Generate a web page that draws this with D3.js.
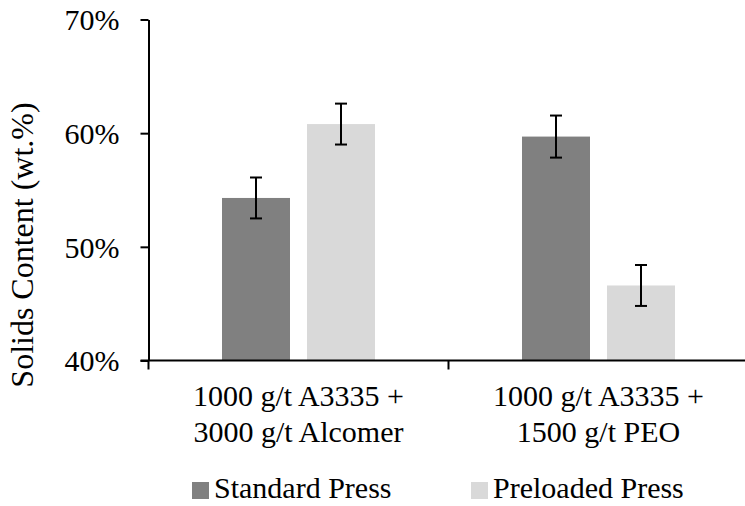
<!DOCTYPE html>
<html>
<head>
<meta charset="utf-8">
<script src="https://cdn.jsdelivr.net/npm/d3@7"></script>
<style>
  html, body { margin: 0; padding: 0; background: #fff; }
  svg { display: block; }
  text { font-family: "Liberation Serif", "Times New Roman", Times, serif; fill: #000; }
</style>
</head>
<body>
<svg id="chart" width="745" height="506"></svg>
<script>
const categories = [["1000 g/t A3335 +", "3000 g/t Alcomer"], ["1000 g/t A3335 +", "1500 g/t PEO"]];
const seriesNames = ["Standard Press", "Preloaded Press"];
const standardValues = [54.3, 59.7];
const preloadedValues = [60.8, 46.6];
const standardErrors = [1.8, 1.85];
const preloadedErrors = [1.8, 1.8];
const yTicks = [40, 50, 60, 70];
const colors = ["#808080", "#d9d9d9"];

const svg = d3.select("#chart");
const plotLeft = 148.5, plotRight = 748.5, plotTop = 19.5, plotBottom = 360.5;
const fontSize = 30;

const catIdx = categories.map((d, i) => i);
const x0 = d3.scaleBand().domain(catIdx).range([plotLeft, plotRight]).padding(0);
const x1 = d3.scaleBand().domain([0, 1]).range([73.5, 226.5]).paddingInner(0.2).paddingOuter(0);
const y = d3.scaleLinear().domain([40, 70]).range([plotBottom, plotTop]);

const series = [
  { values: standardValues, errors: standardErrors },
  { values: preloadedValues, errors: preloadedErrors }
];

// bars
series.forEach((s, si) => {
  svg.append("g").selectAll("rect").data(s.values).join("rect")
    .attr("x", (d, i) => x0(i) + x1(si))
    .attr("y", d => y(d))
    .attr("width", x1.bandwidth())
    .attr("height", d => y(40) - y(d))
    .attr("fill", colors[si]);
});

// error bars
series.forEach((s, si) => {
  const g = svg.append("g").attr("stroke", "#000").attr("stroke-width", 2);
  s.values.forEach((v, i) => {
    const cx = x0(i) + x1(si) + x1.bandwidth() / 2;
    const e = s.errors[i];
    g.append("line").attr("x1", cx).attr("x2", cx).attr("y1", y(v + e)).attr("y2", y(v - e));
    g.append("line").attr("x1", cx - 6).attr("x2", cx + 6).attr("y1", y(v + e)).attr("y2", y(v + e));
    g.append("line").attr("x1", cx - 6).attr("x2", cx + 6).attr("y1", y(v - e)).attr("y2", y(v - e));
  });
});

// y axis
const yAxis = d3.axisLeft(y).tickValues(yTicks).tickSize(8).tickSizeOuter(0).tickPadding(21)
  .tickFormat(d => d + "%");
const gy = svg.append("g").attr("transform", `translate(${plotLeft},0)`).call(yAxis);
gy.attr("font-family", null).attr("font-size", null);
gy.select(".domain").attr("stroke", "#000").attr("stroke-width", 2);
gy.selectAll(".tick line").attr("stroke", "#000").attr("stroke-width", 2);
gy.selectAll(".tick text").style("font-size", fontSize + "px").attr("fill", "#000").attr("dy", "0.34em");

// x axis
const gx = svg.append("g").attr("transform", `translate(0,${plotBottom})`);
gx.append("line").attr("x1", plotLeft - 8).attr("x2", plotRight).attr("y1", 0).attr("y2", 0)
  .attr("stroke", "#000").attr("stroke-width", 2);
const boundaries = [plotLeft].concat(catIdx.map(i => x0(i) + x0.bandwidth()));
gx.selectAll("line.tk").data(boundaries).join("line").attr("class", "tk")
  .attr("x1", d => d).attr("x2", d => d).attr("y1", 0).attr("y2", 9)
  .attr("stroke", "#000").attr("stroke-width", 2);
categories.forEach((lines, i) => {
  const t = gx.append("text").attr("text-anchor", "middle").style("font-size", fontSize + "px")
    .attr("x", x0(i) + x0.bandwidth() / 2).attr("y", 45);
  lines.forEach((ln, li) => {
    t.append("tspan").attr("x", x0(i) + x0.bandwidth() / 2).attr("dy", li === 0 ? 0 : 36).text(ln);
  });
});

// y title
svg.append("text").attr("transform", `translate(33,245) rotate(-90)`)
  .attr("text-anchor", "middle").style("font-size", "32px")
  .text("Solids Content (wt.%)");

// legend
const legendX = [192, 471];
seriesNames.forEach((name, i) => {
  const g = svg.append("g").attr("transform", `translate(${legendX[i]},498)`);
  g.append("rect").attr("x", 0).attr("y", -16).attr("width", 17).attr("height", 17).attr("fill", colors[i]);
  g.append("text").attr("x", 22).attr("y", 0).style("font-size", fontSize + "px").text(name);
});
</script>
</body>
</html>
